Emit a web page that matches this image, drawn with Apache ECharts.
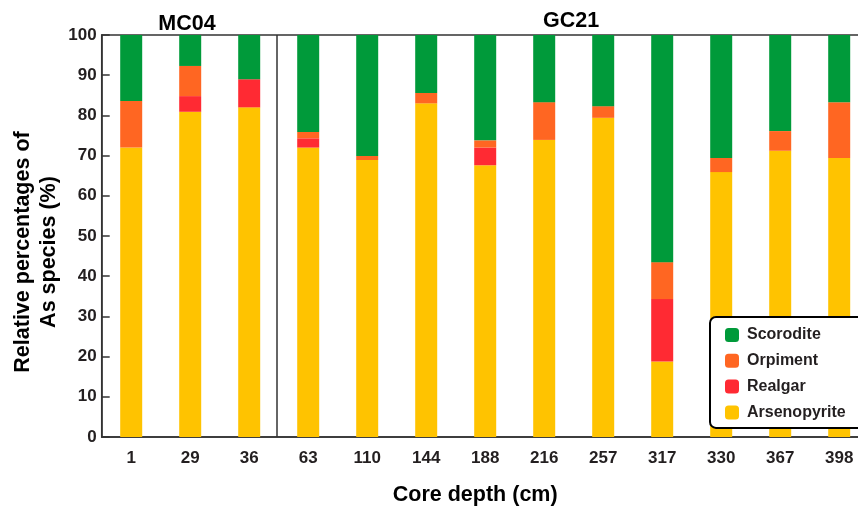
<!DOCTYPE html>
<html>
<head>
<meta charset="utf-8">
<script src="https://cdn.jsdelivr.net/npm/echarts@6/dist/echarts.min.js"></script>
<style>html,body{margin:0;padding:0;background:#fff}#c{width:858px;height:507px}</style>
</head>
<body>
<div id="c"></div>
<script>
var depths = ['1','29','36','63','110','144','188','216','257','317','330','367','398'];
var arsenopyrite = [72.0, 80.9, 82.0, 72.0, 68.9, 83.0, 67.6, 73.9, 79.4, 18.8, 65.9, 71.2, 69.4];
var realgar      = [0,    3.9,  7.0,  2.3,  0,    0,    4.4,  0,    0,    15.5, 0,    0,    0];
var orpiment     = [11.6, 7.5,  0,    1.6,  1.0,  2.6,  1.8,  9.4,  2.9,  9.2,  3.5,  4.9,  13.9];
var scorodite    = [16.4, 7.7,  11.0, 24.1, 30.1, 14.4, 26.2, 16.7, 17.7, 56.5, 30.6, 23.9, 16.7];
var yTicks = [0,10,20,30,40,50,60,70,80,90,100];
var groupBoundary = 2.97; // MC04 | GC21 divider, in category units

var FONT = 'Liberation Sans, Arial, sans-serif';
var TXT = '#231f20';
var colors = {Scorodite:'#009a3a', Orpiment:'#ff6622', Realgar:'#ff2a33', Arsenopyrite:'#ffc300'};

function mk(name, data){
  return {name:name, type:'bar', stack:'s', barWidth:22, data:data,
    itemStyle:{color:colors[name]}, emphasis:{disabled:true}};
}

var chart = echarts.init(document.getElementById('c'), null, {renderer:'canvas'});
chart.setOption({
  animation:false,
  title:[
    {text:'MC04', left:182, top:8, textAlign:'center', textStyle:{fontFamily:FONT, fontWeight:'bold', fontSize:21.5, color:'#000'}},
    {text:'GC21', left:566, top:5, textAlign:'center', textStyle:{fontFamily:FONT, fontWeight:'bold', fontSize:21.5, color:'#000'}}
  ],
  grid:{left:101.7, top:35, width:767, bottom:70, outerBoundsMode:'none', containLabel:false,
    show:true, borderColor:'#333', borderWidth:1.5, backgroundColor:'transparent'},
  legend:{
    orient:'vertical', left:710, top:317,
    data:['Scorodite','Orpiment','Realgar','Arsenopyrite'],
    itemWidth:14, itemHeight:14, itemGap:9.8,
    padding:[10,50,7.5,15],
    borderColor:'#000', borderWidth:2, borderRadius:6,
    backgroundColor:'#fff',
    textStyle:{fontFamily:FONT, fontWeight:'bold', fontSize:16, lineHeight:16, color:TXT, padding:[0,0,0,3]},
    selectedMode:false
  },
  xAxis:[{
    type:'category', data:depths,
    axisLine:{lineStyle:{color:'#333', width:1.5}},
    axisTick:{show:false},
    axisLabel:{fontFamily:FONT, fontWeight:'bold', fontSize:17, color:TXT, margin:13},
    splitLine:{show:false},
    name:'Core depth (cm)', nameLocation:'middle', nameGap:47, nameMoveOverlap:false,
    nameTextStyle:{fontFamily:FONT, fontWeight:'bold', fontSize:21.5, color:'#000', padding:[0,20,0,0]}
  },{
    type:'value', min:0, max:depths.length, show:false
  }],
  yAxis:{
    type:'value', min:0, max:100, interval:10,
    axisLine:{show:true, lineStyle:{color:'#333', width:1.5}},
    axisTick:{show:true, inside:true, length:8, lineStyle:{color:'#333', width:1.5}},
    axisLabel:{fontFamily:FONT, fontWeight:'bold', fontSize:17, color:TXT, margin:5,
      formatter:function(v){return yTicks.indexOf(v)>=0 ? String(v) : '';}},
    splitLine:{show:false},
    name:'Relative percentages of\nAs species (%)', nameLocation:'middle', nameGap:40, nameMoveOverlap:false,
    nameTextStyle:{fontFamily:FONT, fontWeight:'bold', fontSize:21.5, color:'#000', lineHeight:26, padding:[0,32,0,0]}
  },
  series:[
    mk('Arsenopyrite', arsenopyrite),
    mk('Realgar', realgar),
    mk('Orpiment', orpiment),
    mk('Scorodite', scorodite),
    {type:'scatter', xAxisIndex:1, yAxisIndex:0, data:[], silent:true,
      markLine:{symbol:'none', silent:true, label:{show:false},
        lineStyle:{color:'#333', width:1.5, type:'solid'},
        data:[[{coord:[groupBoundary,0]},{coord:[groupBoundary,100]}]]}}
  ]
});
</script>
</body>
</html>
